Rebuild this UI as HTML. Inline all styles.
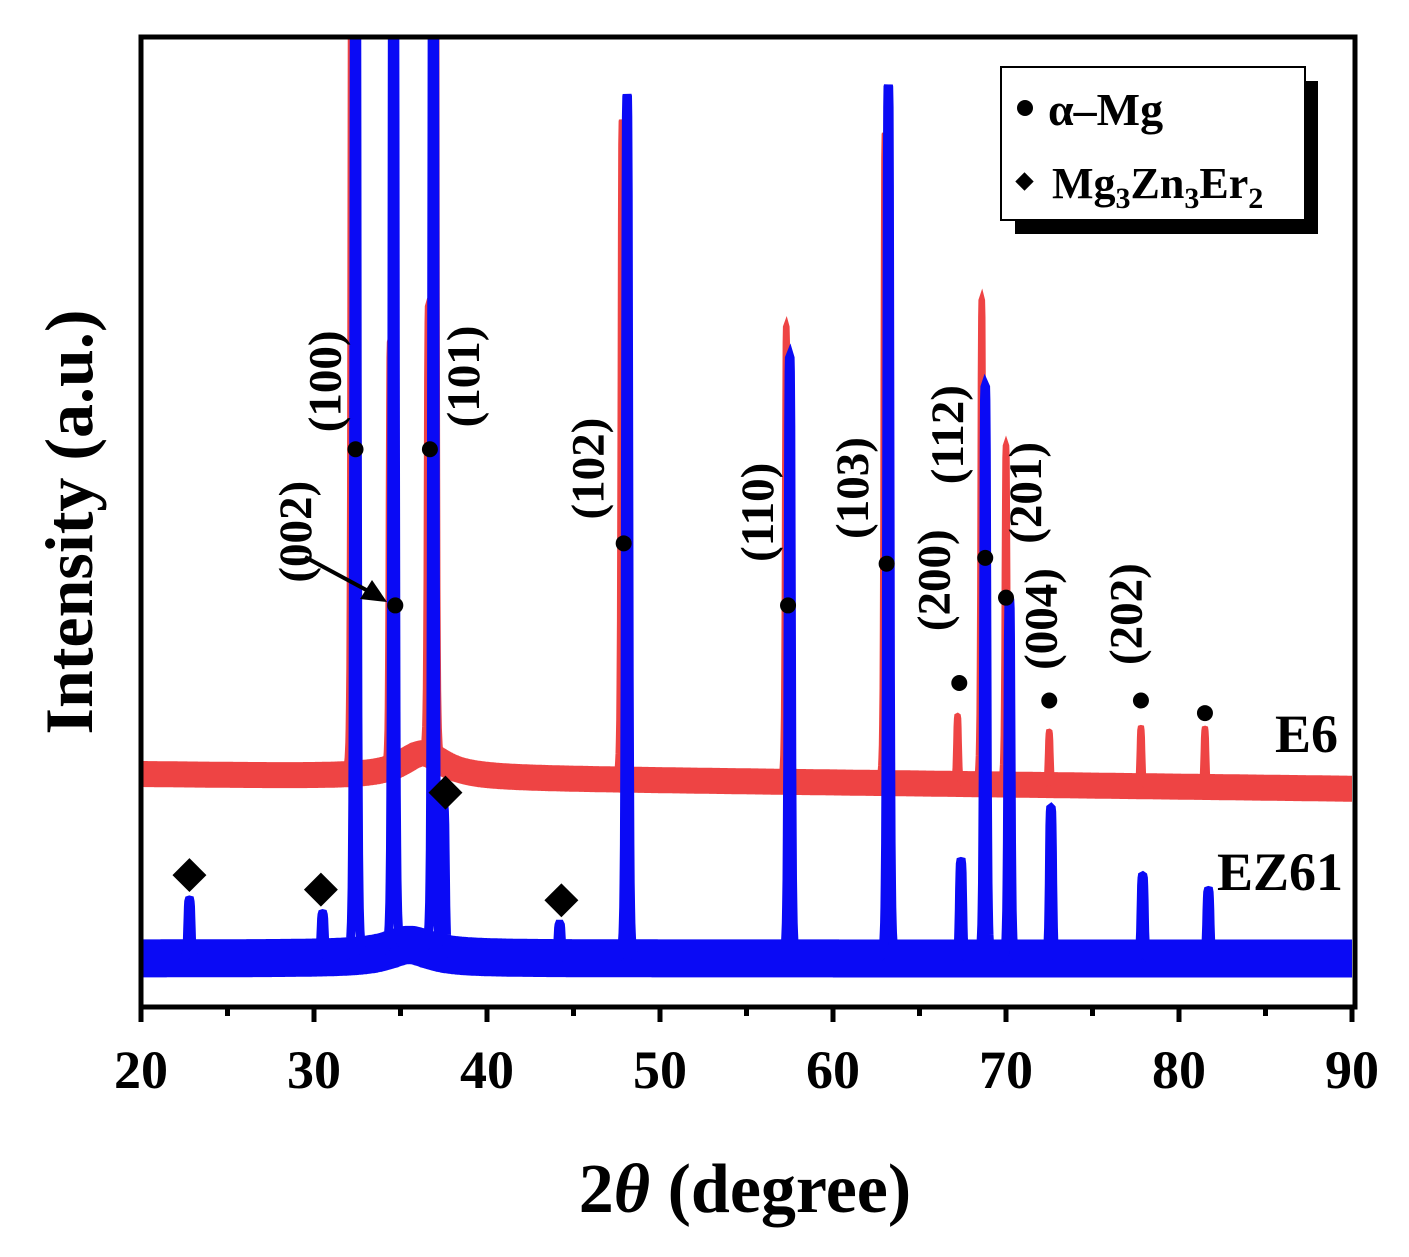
<!DOCTYPE html>
<html><head><meta charset="utf-8"><style>
html,body{margin:0;padding:0;background:#fff;}
svg{display:block;font-family:"Liberation Serif",serif;font-weight:bold;}
</style></head><body>
<svg id="chart" width="1409" height="1257" viewBox="0 0 1409 1257" xmlns="http://www.w3.org/2000/svg">
<defs><clipPath id="plotclip"><rect x="143" y="39" width="1210" height="966"/></clipPath></defs>
<g id="series" clip-path="url(#plotclip)"></g>
<g id="annot"></g>
<rect x="141" y="37" width="1214" height="970" fill="none" stroke="#000" stroke-width="5"/>
<g id="axes"></g>
<text transform="translate(92,522) rotate(-90)" text-anchor="middle" font-size="68">Intensity (a.u.)</text>
<text x="745" y="1212" text-anchor="middle" font-size="70">2<tspan font-style="italic">θ</tspan> (degree)</text>
<text x="1338" y="752" text-anchor="end" font-size="54">E6</text>
<text x="1343" y="890" text-anchor="end" font-size="54">EZ61</text>
<g>
<rect x="1015" y="81" width="303" height="153" fill="#000"/>
<rect x="1001" y="67" width="304" height="153" fill="#fff" stroke="#000" stroke-width="2"/>
<circle cx="1025" cy="108" r="8" fill="#000"/>
<text x="1048" y="125" font-size="46">α–Mg</text>
<rect x="1018" y="175" width="13" height="13" fill="#000" transform="rotate(45 1024.5 181.5)"/>
<text x="1052" y="198" font-size="44">Mg<tspan font-size="30" dy="10">3</tspan><tspan dy="-10">Zn</tspan><tspan font-size="30" dy="10">3</tspan><tspan dy="-10">Er</tspan><tspan font-size="30" dy="10">2</tspan></text>
</g>
</svg>
<script>
const e6PeakPos = [32.2, 34.4, 36.6, 37.0, 47.8, 57.3, 63.0, 67.2, 68.6, 70.0, 72.5, 77.8, 81.5];
const e6PeakInt = [1200, 440, 460, 1200, 680, 470, 670, 70, 500, 350, 55, 60, 60];
const e6HumpPos = [36.3];
const e6HumpInt = [25];
const e6Baseline = [240, 225];
const ez61PeakPos = [22.8, 30.5, 32.4, 34.6, 36.9, 37.5, 44.2, 48.1, 57.5, 63.2, 67.4, 68.8, 70.2, 72.6, 77.9, 81.7];
const ez61PeakInt = [60, 45, 1200, 1200, 1200, 150, 35, 890, 620, 900, 100, 590, 370, 155, 85, 70];
const ez61HumpPos = [35.5];
const ez61HumpInt = [14];
const ez61Baseline = [50, 50];
const xTicks = [20, 30, 40, 50, 60, 70, 80, 90];
const dotPos = [32.4, 34.7, 36.7, 47.9, 57.4, 63.1, 67.3, 68.8, 70.0, 72.5, 77.8, 81.5];
const dotInt = [575, 414, 575, 478, 414, 457, 334, 463, 422, 316, 316, 303];
const diamondPos = [22.8, 30.4, 37.6, 44.3];
const diamondInt = [136, 121, 221, 110];
const hklLabels = ["(100)","(002)","(101)","(102)","(110)","(103)","(200)","(112)","(201)","(004)","(202)"];
const hklPos = [30.6, 28.9, 38.6, 45.8, 55.6, 61.1, 65.8, 66.6, 71.1, 72.0, 76.9];
const hklInt = [645, 490, 650, 555, 510, 535, 440, 590, 530, 400, 405];

const X0=141, X1=1352, Y0=1007, Y1=37;
const xs = v => X0 + (v-20)/(90-20)*(X1-X0);
const ys = v => Y0 - v/1000*(Y0-Y1);
const NS="http://www.w3.org/2000/svg";
function mk(tag, parent){const e=document.createElementNS(NS,tag);parent.appendChild(e);return e;}
function curve(pos, amp, hpos, hamp, base, w){
  let d="";
  for(let t=20;t<=90.001;t+=0.02){
    let b = base[0] + (base[1]-base[0])*(t-20)/70;
    let s = 0;
    for(let i=0;i<pos.length;i++){ const z=(t-pos[i])/w; s+=amp[i]/(1+z*z*z*z); }
    for(let i=0;i<hpos.length;i++){ const z=(t-hpos[i])/1.5; s+=hamp[i]/(1+z*z); }
    d += (d?"L":"M")+xs(t).toFixed(1)+","+ys(b+s).toFixed(1);
  }
  return d;
}
const g=document.getElementById('series');
const redBand=mk('path',g);


redBand.setAttribute('d',curve([],[],e6HumpPos,e6HumpInt,e6Baseline,0.1));
redBand.setAttribute('fill','none');redBand.setAttribute('stroke','#ee4444');redBand.setAttribute('stroke-width','26');
const red=mk('path',g);


red.setAttribute('d',curve(e6PeakPos,e6PeakInt,e6HumpPos,e6HumpInt,e6Baseline,0.09));
red.setAttribute('fill','none');red.setAttribute('stroke','#ee4444');red.setAttribute('stroke-width','6');
const blueBand=mk('path',g);


blueBand.setAttribute('d',curve([],[],ez61HumpPos,ez61HumpInt,ez61Baseline,0.1));
blueBand.setAttribute('fill','none');blueBand.setAttribute('stroke','#0a0af5');blueBand.setAttribute('stroke-width','38');
const blue=mk('path',g);


blue.setAttribute('d',curve(ez61PeakPos,ez61PeakInt,ez61HumpPos,ez61HumpInt,ez61Baseline,0.1));
blue.setAttribute('fill','none');blue.setAttribute('stroke','#0a0af5');blue.setAttribute('stroke-width','9');

const ax=document.getElementById('axes');
for(let v=20; v<=90; v+=5){
  const t=mk('line',ax);
  
  
  t.setAttribute('x1',xs(v));t.setAttribute('x2',xs(v));t.setAttribute('y1',1007);t.setAttribute('y2',v%10===0?1022:1016);
  t.setAttribute('stroke','#000');t.setAttribute('stroke-width','5');
}
xTicks.forEach(v=>{
  const t=mk('text',ax);
  
  
  t.setAttribute('x',xs(v));t.setAttribute('y',1088);t.setAttribute('text-anchor','middle');t.setAttribute('font-size','54');
  t.textContent=v;
});
const an=document.getElementById('annot');
dotPos.forEach((p,i)=>{
  const c=mk('circle',an);
  
  
  c.setAttribute('cx',xs(p));c.setAttribute('cy',ys(dotInt[i]));c.setAttribute('r',8);c.setAttribute('fill','#000');
});
diamondPos.forEach((p,i)=>{
  const r=mk('rect',an);
  
  
  const cx=xs(p), cy=ys(diamondInt[i]);
  r.setAttribute('x',cx-12);r.setAttribute('y',cy-12);r.setAttribute('width',24);r.setAttribute('height',24);
  r.setAttribute('transform','rotate(45 '+cx+' '+cy+')');r.setAttribute('fill','#000');
});
hklLabels.forEach((s,i)=>{
  const t=mk('text',an);
  
  
  const x=xs(hklPos[i]), y=ys(hklInt[i]);
  t.setAttribute('transform','translate('+(x+16)+','+y+') rotate(-90)');
  t.setAttribute('text-anchor','middle');t.setAttribute('font-size','47');
  t.textContent=s;
});
const arr=mk('line',an);


arr.setAttribute('x1',305);arr.setAttribute('y1',557);arr.setAttribute('x2',370);arr.setAttribute('y2',592);
arr.setAttribute('stroke','#000');arr.setAttribute('stroke-width','4');
const head=mk('polygon',an);


head.setAttribute('points','387,602 360,599 372,580');head.setAttribute('fill','#000');
</script>
</body></html>
